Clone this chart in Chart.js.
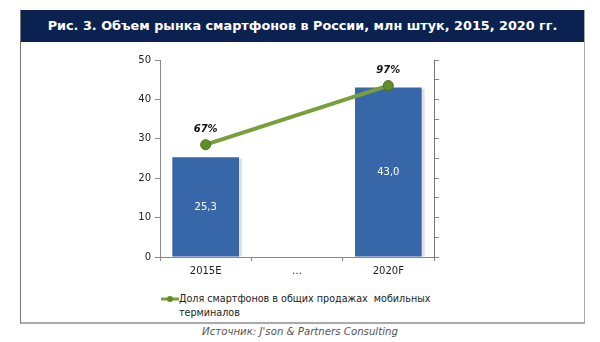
<!DOCTYPE html>
<html>
<head>
<meta charset="utf-8">
<script src="https://cdn.jsdelivr.net/npm/chart.js@4"></script>
<style>
  body { margin: 0; background: #fff; width: 600px; height: 342px; overflow: hidden; position: relative; font-family: "DejaVu Sans", sans-serif; }
  #frame { position: absolute; left: 20px; top: 10px; width: 563px; height: 312px;
           border-left: 1px solid #777; border-right: 1px solid #aaa; border-bottom: 2px solid #aaa; }
  #header { position: absolute; left: 0; top: 0; width: 563px; height: 32px; background: #0b2250;
            color: #fff; font-weight: bold; font-size: 12.8px; line-height: 32px; text-align: center; }
  #chartBox { position: absolute; left: 0; top: 32px; width: 563px; height: 240px; }
  #legend { position: absolute; left: 140px; top: 282px; font-size: 9.6px; color: #222; line-height: 14px; }
  #legend .mark { position: absolute; left: 0; top: 4px; width: 18px; height: 6px; }
  #legend .txt { margin-left: 18px; }
  #source { position: absolute; left: 0; top: 326px; width: 600px; text-align: center;
            font-style: italic; font-size: 10.2px; color: #555; }
</style>
</head>
<body>
<div id="frame">
  <div id="header">Рис. 3. Объем рынка смартфонов в России, млн штук, 2015, 2020 гг.</div>
  <div id="chartBox"><canvas id="myChart" width="563" height="240"></canvas></div>
  <div id="legend">
    <canvas class="mark" id="legMark" width="18" height="6"></canvas>
    <div class="txt">Доля смартфонов в общих продажах&nbsp; мобильных<br>терминалов</div>
  </div>
</div>
<div id="source">Источник: J'son &amp; Partners Consulting</div>

<script>
const categories = ['2015E', '…', '2020F'];
const marketVolume = [25.3, null, 43.0];      // млн штук
const smartphoneShare = [67, null, 97];       // %
const leftTicks = [0, 10, 20, 30, 40, 50];

const GREEN = '#77a03a';
const BLUE = '#3867a9';

// legend marker
const lm = document.getElementById('legMark').getContext('2d');
lm.strokeStyle = GREEN; lm.lineWidth = 3;
lm.beginPath(); lm.moveTo(0, 3); lm.lineTo(18, 3); lm.stroke();
lm.fillStyle = '#5f8a25';
lm.beginPath(); lm.arc(9, 3, 3, 0, Math.PI * 2); lm.fill();

const valueLabels = {
  id: 'valueLabels',
  afterDatasetsDraw(chart) {
    const ctx = chart.ctx;
    ctx.save();
    ctx.textAlign = 'center';
    ctx.textBaseline = 'middle';
    // bar values inside bars
    const barMeta = chart.getDatasetMeta(0);
    barMeta.data.forEach((bar, i) => {
      const v = marketVolume[i];
      if (v == null) return;
      ctx.fillStyle = '#ffffff';
      ctx.font = '10px "DejaVu Sans"';
      ctx.fillText(v.toFixed(1).replace('.', ','), bar.x, (bar.y + bar.base) / 2);
    });
    // share labels above points
    const lineMeta = chart.getDatasetMeta(1);
    lineMeta.data.forEach((pt, i) => {
      const v = smartphoneShare[i];
      if (v == null) return;
      ctx.fillStyle = '#111';
      ctx.font = 'italic bold 10px "DejaVu Sans"';
      ctx.fillText(v + '%', pt.x, pt.y - 15);
    });
    ctx.restore();
  }
};

// soft shadow to the right of the bars, like the original
const barShadow = {
  id: 'barShadow',
  beforeDatasetsDraw(chart) {
    const ctx = chart.ctx;
    ctx.save();
    chart.getDatasetMeta(0).data.forEach((bar, i) => {
      if (marketVolume[i] == null) return;
      const w = bar.width;
      ctx.fillStyle = 'rgba(0,0,0,0.12)';
      ctx.fillRect(bar.x - w / 2 + 2, bar.y + 1, w + 1, bar.base - bar.y - 1);
    });
    ctx.restore();
  }
};

const data = {
  labels: categories,
  datasets: [
    {
      type: 'bar',
      label: 'Объем рынка',
      data: marketVolume,
      backgroundColor: BLUE,
      borderWidth: 0,
      barPercentage: 0.73,
      categoryPercentage: 1.0,
      yAxisID: 'y',
      order: 2
    },
    {
      type: 'line',
      label: 'Доля смартфонов в общих продажах мобильных терминалов',
      data: smartphoneShare,
      borderColor: GREEN,
      borderWidth: 4,
      spanGaps: true,
      pointRadius: 5,
      pointBackgroundColor: '#628f27',
      pointBorderColor: '#4b6e1c',
      pointBorderWidth: 1,
      yAxisID: 'y2',
      order: 1
    }
  ]
};

const config = {
  type: 'bar',
  data: data,
  plugins: [barShadow, valueLabels],
  options: {
    responsive: false,
    animation: false,
    layout: { padding: { top: 18, left: 0, right: 0, bottom: 0 } },
    plugins: {
      legend: { display: false },
      tooltip: { enabled: false }
    },
    scales: {
      x: {
        offset: true,
        grid: { offset: true, drawOnChartArea: false, drawTicks: true, tickLength: 4, color: '#888' },
        border: { color: '#888' },
        ticks: { color: '#222', font: { family: 'DejaVu Sans', size: 10 }, padding: 4 },
        afterFit(scale) { scale.height = 25; }
      },
      y: {
        position: 'left',
        min: 0,
        max: 50,
        afterBuildTicks(scale) { scale.ticks = leftTicks.map(v => ({ value: v })); },
        grid: { drawOnChartArea: false, tickLength: 5, color: '#888' },
        border: { color: '#888' },
        ticks: { color: '#222', font: { family: 'DejaVu Sans', size: 10 }, padding: 4 },
        afterFit(scale) { scale.width = 139; }
      },
      y2: {
        position: 'right',
        min: 10,
        max: 110,
        ticks: { display: false, stepSize: 10 },
        grid: { drawOnChartArea: false, tickLength: 5, color: '#888' },
        border: { color: '#777' },
        afterFit(scale) { scale.width = 150; }
      }
    }
  }
};

const ctx = document.getElementById('myChart').getContext('2d');
const chart = new Chart(ctx, config);
</script>
</body>
</html>
